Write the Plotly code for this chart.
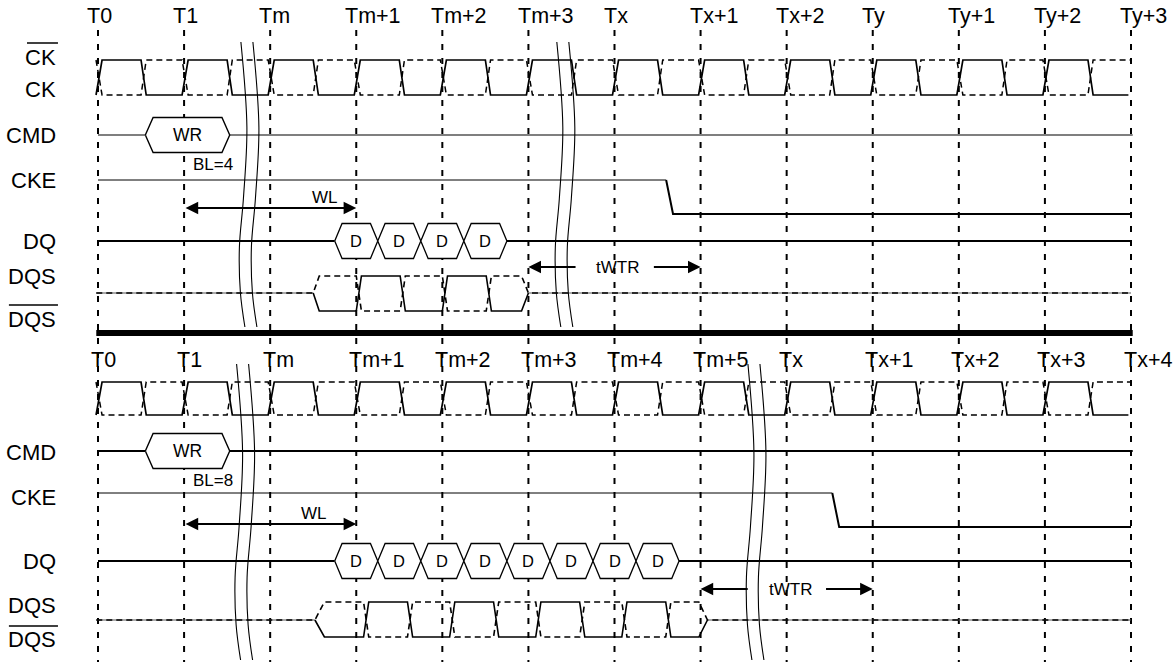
import plotly.graph_objects as go

# ---------------- data ----------------
top_ticks = ["T0", "T1", "Tm", "Tm+1", "Tm+2", "Tm+3", "Tx", "Tx+1", "Tx+2", "Ty", "Ty+1", "Ty+2", "Ty+3"]
bot_ticks = ["T0", "T1", "Tm", "Tm+1", "Tm+2", "Tm+3", "Tm+4", "Tm+5", "Tx", "Tx+1", "Tx+2", "Tx+3", "Tx+4"]
top_labels = ["CMD", "CKE", "DQ", "DQS"]
bot_labels = ["CMD", "CKE", "DQ", "DQS"]
burst_lengths = [4, 8]          # BL=4 (top), BL=8 (bottom)
cmd_name = "WR"
wr_cycle = [1, 1]               # WR issued at T1
wl_start, wl_end = 1, 3         # WL from T1 to Tm+1
data_start = 3                  # first D at Tm+1
cke_fall = [6.6, 8.53]          # CKE falling edge (cycles)
twtr_from = [5, 7]              # tWTR start (end of DQS postamble)
twtr_to = [7, 9]                # tWTR end
breaks_top = [1.66, 5.33]       # break marks (cycles)
breaks_bot = [1.61, 7.55]
dqs_lag = [0.0, 0.085]          # DQS edge lag vs clock (cycles)

N = 12
U = 86.083                      # px per cycle
X0 = 98
FONT = "Liberation Sans, Arial"

fig = go.Figure()


def line(xs, ys, w=1.5, color="black", dash=None, shape="linear", fill=False):
    fig.add_trace(go.Scatter(x=xs, y=ys, mode="lines",
                             line=dict(width=w, color=color, dash=dash, shape=shape),
                             fill="toself" if fill else None, fillcolor="white",
                             hoverinfo="skip", showlegend=False))


def text(x, y, s, size=16, xanchor="center"):
    fig.add_annotation(x=x, y=y, text=s, showarrow=False, xanchor=xanchor, yanchor="middle",
                       font=dict(size=size, color="black", family=FONT))


def arrow(x, ax, y, both=False):
    fig.add_annotation(x=x, y=y, ax=ax, ay=y, axref="x", ayref="y", xref="x", yref="y",
                       text="", showarrow=True, arrowhead=2, arrowsize=1.4, arrowwidth=1.8,
                       arrowcolor="black", arrowside="end+start" if both else "end")


def clock(hi, lo):
    sx, sy, dx, dy = [], [], [], []
    for i in range(N):
        for (a, b) in [(i - 0.023, lo), (i + 0.047, hi), (i + 0.5, hi), (i + 0.56, lo)]:
            sx.append(a); sy.append(b)
        for (a, b) in [(i - 0.023, hi), (i + 0.047, lo), (i + 0.5, lo), (i + 0.56, hi)]:
            dx.append(a); dy.append(b)
    sx.append(N - 0.03); sy.append(lo)
    dx.append(N); dy.append(hi)
    line(dx, dy, 1.5, "black", "6px,4px")
    line(sx, sy, 1.7)


def hexagon(left, right, top, bot, w=1.5, p=0.09):
    mid = (top + bot) / 2
    line([left, left + p, right - p, right, right - p, left + p, left],
         [mid, top, top, mid, bot, bot, mid], w, fill=True)


def dqs(bl, hi, lo, mid, lag, pre, post):
    start = data_start
    xs, ys = [pre[0], pre[1]], [mid, lo]
    for k in range(bl // 2):
        r = start + k
        xs += [r + lag, r + lag + 0.06, r + 0.5 + lag + 0.01, r + 0.5 + lag + 0.07]
        ys += [lo, hi, hi, lo]
    xs += [post[0], post[1]]
    ys += [lo, mid]
    dys = [mid] + [hi if v == lo else (lo if v == hi else mid) for v in ys[1:]]
    line([-0.02, pre[0]], [mid, mid], 1, "#555")
    line([post[1], N], [mid, mid], 1, "#555")
    line([-0.02] + xs + [N], [mid] + dys + [mid], 1.6, "black", "6px,4px")
    line(xs, ys, 1.6)


def brk(x0, y_top, y_bot):
    shape = [(0, 0), (0.3, 6), (0.55, 2.5), (0.72, -1.5), (0.88, -0.5), (1, 4)]
    for off in (0, 12):
        line([x0 + (dxp + off) / U for s, dxp in shape],
             [y_top + s * (y_bot - y_top) for s, dxp in shape], 1.1, "black", None, "spline")


def panel(p, ticks, y):
    for i in range(N + 1):
        line([i, i], [y["g0"], y["g1"]], 2, "black", "6px,8px")
        text(i + y["tkx"], y["tick"], ticks[i], 21.5, "left")
    clock(y["ckh"], y["ckl"])
    bl = burst_lengths[p]
    wl = wr_cycle[p] - 0.45
    wr = wr_cycle[p] + 0.53
    line([0, wl], [y["cmd"], y["cmd"]], y["cmdw"])
    line([wr, N + 0.02], [y["cmd"], y["cmd"]], y["cmdw"])
    hexagon(wl, wr, y["cmd"] - 17.5, y["cmd"] + 17.5, 1.4)
    text((wl + wr) / 2, y["cmd"], cmd_name, 17.5)
    text(wr_cycle[p] + 0.08, y["cmd"] + 29, "BL=%d" % bl, 17, "left")
    line([0, cke_fall[p]], [y["ckeh"], y["ckeh"]], 1)
    line([cke_fall[p], cke_fall[p] + 0.08, N], [y["ckeh"], y["ckel"], y["ckel"]], 2)
    arrow(wl_end, wl_start, y["wl"], both=True)
    text(y["wlx"], y["wl"] - 11, "WL", 17)
    first = data_start - 0.25
    last = data_start + (bl - 1) * 0.5 + 0.25
    line([0, first], [y["dq"], y["dq"]], 2)
    line([last, N], [y["dq"], y["dq"]], 2)
    for k in range(bl):
        c = data_start + 0.5 * k
        hexagon(c - 0.25, c + 0.25, y["dq"] - 17.5, y["dq"] + 17.5, 1.3, 0.085)
        text(c, y["dq"], "D", 16.5)
    dqs(bl, y["dqsh"], y["dqsl"], y["dqsm"], dqs_lag[p], y["pre"], y["post"])
    a, b = twtr_from[p], twtr_to[p]
    arrow(a, a + 0.565, y["twtr"])
    arrow(b, b - 0.56, y["twtr"])
    text((a + b) / 2 + y["twx"], y["twtr"], "tWTR", 17)


top = dict(g0=30, g1=336, tick=16, tkx=-0.15, ckh=60, ckl=95, cmd=135, cmdw=1.1, ckeh=180, ckel=214,
           wl=208, wlx=2.64, dq=241, dqsh=276, dqsl=311, dqsm=293, twtr=267, twx=0.03,
           pre=(2.5, 2.57), post=(4.92, 5.0))
bot = dict(g0=338, g1=662, tick=360, tkx=-0.11, ckh=382, ckl=415, cmd=451, cmdw=2, ckeh=493, ckel=527,
           wl=524, wlx=2.51, dq=561, dqsh=602, dqsl=637, dqsm=620, twtr=589, twx=0.04,
           pre=(2.52, 2.63), post=(6.98, 7.08))

panel(0, top_ticks, top)
panel(1, bot_ticks, bot)

line([-0.02, N + 0.02], [333, 333], 6)

for b in breaks_top:
    brk(b, 42, 327)
for b in breaks_bot:
    brk(b, 364, 660)

LX = -0.465
LS = 22
text(LX, 57, "CK", LS, "right")
text(LX, 89, "CK", LS, "right")
for lab, yy in zip(top_labels, [135, 180, 241, 276]):
    text(LX, yy, lab, LS, "right")
text(LX, 319, "DQS", LS, "right")
for lab, yy in zip(bot_labels, [452, 497, 561, 605]):
    text(LX, yy, lab, LS, "right")
text(LX, 639, "DQS", LS, "right")
line([LX - 0.36, LX], [43, 43], 1.5)
line([LX - 0.57, LX], [305, 305], 1.5)
line([LX - 0.57, LX], [626, 626], 1.5)

fig.update_layout(
    width=1176, height=662, margin=dict(l=0, r=0, t=0, b=0),
    plot_bgcolor="white", paper_bgcolor="white",
    xaxis=dict(range=[-X0 / U, (1176 - X0) / U], visible=False, fixedrange=True),
    yaxis=dict(range=[662, 0], visible=False, fixedrange=True),
)
fig.write_html("out.html",
               config={"displayModeBar": False, "staticPlot": True},
               post_script="document.body.style.margin='0';document.body.style.overflow='hidden';")
